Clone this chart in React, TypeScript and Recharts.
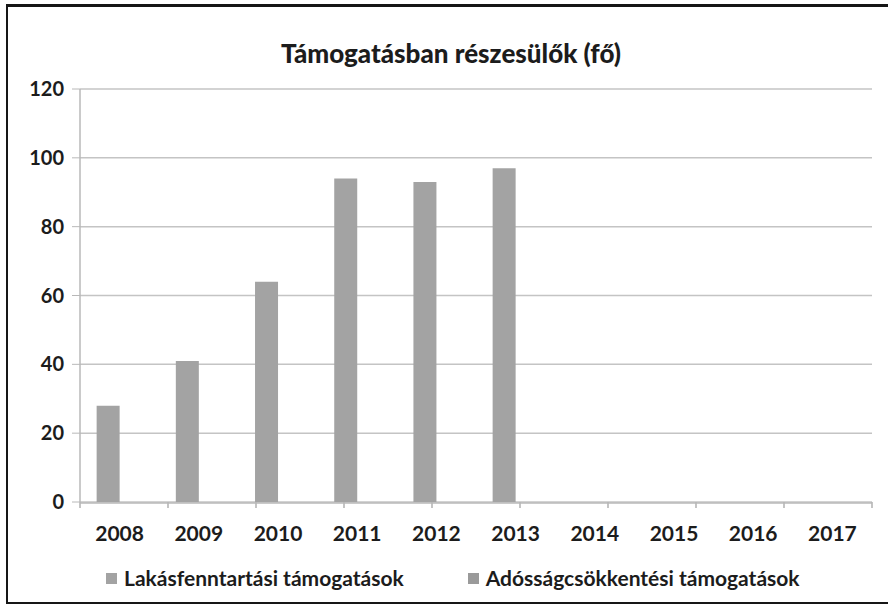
import { BarChart, Bar, XAxis, YAxis, CartesianGrid, Legend } from 'recharts';

const years = ['2008', '2009', '2010', '2011', '2012', '2013', '2014', '2015', '2016', '2017'];
const lakasfenntartasi = [28, 41, 64, 94, 93, 97, 0, 0, 0, 0];
const adossagcsokkentesi = [0, 0, 0, 0, 0, 0, 0, 0, 0, 0];
const yTicks = [0, 20, 40, 60, 80, 100, 120];
// category boundaries, where the category axis draws its tick marks
const boundaryTicks = [0, 1, 2, 3, 4, 5, 6, 7, 8, 9, 10];

const seriesNames = ['Lakásfenntartási támogatások', 'Adósságcsökkentési támogatások'];
const title = 'Támogatásban részesülők (fő)';

const chartData = years.map((year, i) => ({
  year,
  lakas: lakasfenntartasi[i],
  adossag: adossagcsokkentesi[i],
}));

const FONT = 'Lato, "Open Sans", sans-serif';
const TEXT = '#1c1c1c';

function LegendContent({ payload }: { payload?: { value: string; color: string }[] }) {
  // keep the series order, not the alphabetical one
  const items = [...(payload ?? [])].sort(
    (a, b) => seriesNames.indexOf(a.value) - seriesNames.indexOf(b.value)
  );
  return (
    <div style={{ display: 'flex', gap: 64, paddingLeft: 106, fontFamily: FONT }}>
      {items.map(item => (
        <div key={item.value} style={{ display: 'flex', alignItems: 'center', gap: 7 }}>
          <span style={{ display: 'inline-block', width: 11, height: 11, background: item.color }} />
          <span style={{ fontSize: 21, fontWeight: 700, color: TEXT, lineHeight: '24px' }}>{item.value}</span>
        </div>
      ))}
    </div>
  );
}

const EmptyTick = () => <g />;

export default function App() {
  return (
    <div style={{ position: 'absolute', left: 0, top: 0, width: 888, height: 607, background: '#fff' }}>
      <div
        style={{
          position: 'absolute',
          left: 6,
          top: 4,
          width: 880,
          height: 595,
          borderLeft: '2px solid #161616',
          borderTop: '3px solid #161616',
          borderBottom: '2px solid #161616',
          borderRight: '1px solid #555',
        }}
      />
      <div
        style={{
          position: 'absolute',
          top: 37,
          left: 0,
          width: 902,
          textAlign: 'center',
          fontFamily: FONT,
          fontWeight: 900,
          fontSize: 26,
          color: TEXT,
        }}
      >
        {title}
      </div>
      <BarChart
        width={888}
        height={607}
        data={chartData}
        margin={{ top: 89, right: 16, bottom: 17, left: 0 }}
        barCategoryGap="21%"
        barGap={0}
      >
        <CartesianGrid vertical={false} xAxisId="years" stroke="#c4c4c4" strokeWidth={1.5} />
        <XAxis
          xAxisId="marks"
          type="number"
          domain={[0, 10]}
          ticks={boundaryTicks}
          interval={0}
          height={1}
          axisLine={false}
          tick={<EmptyTick />}
          tickLine={{ stroke: '#b0b0b0', strokeWidth: 1.5 }}
          tickSize={6}
        />
        <XAxis
          xAxisId="years"
          dataKey="year"
          height={63}
          axisLine={{ stroke: '#b8b8b8', strokeWidth: 1.5 }}
          tickLine={false}
          tick={{ fill: TEXT, fontSize: 21, fontWeight: 700, fontFamily: FONT }}
          tickMargin={17}
        />
        <YAxis
          width={80}
          domain={[0, 120]}
          ticks={yTicks}
          interval={0}
          axisLine={{ stroke: '#b8b8b8', strokeWidth: 1.5 }}
          tickLine={{ stroke: '#b8b8b8' }}
          tickSize={8}
          tickMargin={8}
          tick={{ fill: TEXT, fontSize: 20, fontWeight: 700, fontFamily: FONT }}
        />
        <Legend verticalAlign="bottom" height={24} content={<LegendContent />} />
        <Bar xAxisId="years" dataKey="lakas" name={seriesNames[0]} fill="#a3a3a3" isAnimationActive={false} />
        <Bar xAxisId="years" dataKey="adossag" name={seriesNames[1]} fill="#9a9a9a" isAnimationActive={false} />
      </BarChart>
    </div>
  );
}
